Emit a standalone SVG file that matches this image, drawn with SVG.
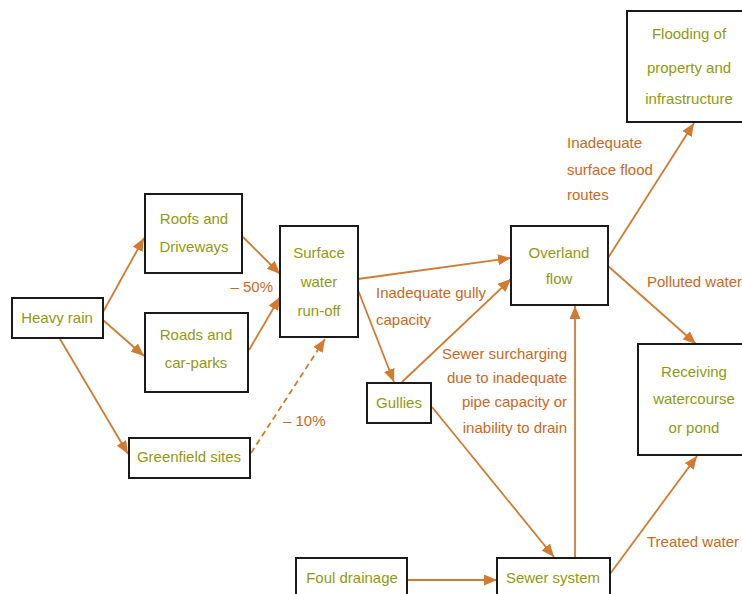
<svg xmlns="http://www.w3.org/2000/svg" width="742" height="594" viewBox="0 0 742 594">
  <style>
    .box { fill: #ffffff; stroke: #1a1a1a; stroke-width: 2; }
    .nt { font-family: "Liberation Sans", Arial, sans-serif; font-size: 15px; fill: #8f9a12; text-anchor: middle; }
    .lb { font-family: "Liberation Sans", Arial, sans-serif; font-size: 15px; fill: #c8691f; }
    .ar { fill: none; stroke: #d27a30; stroke-width: 1.8; marker-end: url(#head); }
    .dash { stroke-dasharray: 6 4; }
  </style>
  <defs>
    <marker id="head" markerUnits="userSpaceOnUse" markerWidth="13" markerHeight="11" refX="13" refY="5.5" orient="auto">
      <path d="M0,0 L13,5.5 L0,11 z" fill="#d27a30"/>
    </marker>
  </defs>
  <rect width="742" height="594" fill="#ffffff"/>

  <!-- connectors -->
  <g id="connectors">
    <line class="ar" x1="103" y1="312" x2="144" y2="238"/>
    <line class="ar" x1="103" y1="320" x2="144" y2="356"/>
    <line class="ar" x1="60" y1="339" x2="128" y2="454"/>
    <line class="ar" x1="243" y1="237" x2="280" y2="274"/>
    <line class="ar" x1="249" y1="350" x2="280" y2="297"/>
    <line class="ar dash" x1="251" y1="453" x2="325" y2="339"/>
    <line class="ar" x1="358" y1="279" x2="511" y2="258"/>
    <line class="ar" x1="358" y1="290" x2="394" y2="382"/>
    <line class="ar" x1="402" y1="382" x2="511" y2="279"/>
    <line class="ar" x1="432" y1="407" x2="554" y2="557"/>
    <line class="ar" x1="575" y1="557" x2="575" y2="306"/>
    <line class="ar" x1="407" y1="580" x2="497" y2="580"/>
    <line class="ar" x1="610" y1="574" x2="697" y2="456"/>
    <line class="ar" x1="608" y1="258" x2="694" y2="123"/>
    <line class="ar" x1="608" y1="266" x2="696" y2="344"/>

    <text class="lb" x="273" y="292" text-anchor="end">– 50%</text>
    <text class="lb" x="283" y="426">– 10%</text>
    <text class="lb" x="376" y="298">Inadequate gully</text>
    <text class="lb" x="376" y="325">capacity</text>
    <text class="lb" x="567" y="359" text-anchor="end">Sewer surcharging</text>
    <text class="lb" x="567" y="383" text-anchor="end">due to inadequate</text>
    <text class="lb" x="567" y="407" text-anchor="end">pipe capacity or</text>
    <text class="lb" x="567" y="433" text-anchor="end">inability to drain</text>
    <text class="lb" x="567" y="148">Inadequate</text>
    <text class="lb" x="567" y="175">surface flood</text>
    <text class="lb" x="567" y="200">routes</text>
    <text class="lb" x="647" y="287">Polluted water</text>
    <text class="lb" x="647" y="547">Treated water</text>
  </g>

  <!-- nodes -->
  <g id="heavy-rain">
    <rect class="box" x="12" y="298" width="91" height="40"/>
    <text class="nt" x="57" y="323">Heavy rain</text>
  </g>
  <g id="roofs">
    <rect class="box" x="145" y="194" width="97" height="79"/>
    <text class="nt" x="194" y="224">Roofs and</text>
    <text class="nt" x="194" y="252">Driveways</text>
  </g>
  <g id="roads">
    <rect class="box" x="145" y="313" width="103" height="79"/>
    <text class="nt" x="196" y="340">Roads and</text>
    <text class="nt" x="196" y="368">car-parks</text>
  </g>
  <g id="greenfield">
    <rect class="box" x="129" y="438" width="121" height="40"/>
    <text class="nt" x="189" y="462">Greenfield sites</text>
  </g>
  <g id="surface-runoff">
    <rect class="box" x="280" y="226" width="78" height="111"/>
    <text class="nt" x="319" y="258">Surface</text>
    <text class="nt" x="319" y="287">water</text>
    <text class="nt" x="319" y="316">run-off</text>
  </g>
  <g id="gullies">
    <rect class="box" x="367" y="383" width="64" height="40"/>
    <text class="nt" x="399" y="408">Gullies</text>
  </g>
  <g id="overland-flow">
    <rect class="box" x="511" y="226" width="97" height="79"/>
    <text class="nt" x="559" y="258">Overland</text>
    <text class="nt" x="559" y="284">flow</text>
  </g>
  <g id="receiving">
    <rect class="box" x="638" y="344" width="110" height="111"/>
    <text class="nt" x="694" y="377">Receiving</text>
    <text class="nt" x="694" y="404">watercourse</text>
    <text class="nt" x="694" y="433">or pond</text>
  </g>
  <g id="flooding">
    <rect class="box" x="627" y="11" width="120" height="111"/>
    <text class="nt" x="689" y="39">Flooding of</text>
    <text class="nt" x="689" y="73">property and</text>
    <text class="nt" x="689" y="104">infrastructure</text>
  </g>
  <g id="foul-drainage">
    <rect class="box" x="296" y="558" width="111" height="44"/>
    <text class="nt" x="352" y="583">Foul drainage</text>
  </g>
  <g id="sewer-system">
    <rect class="box" x="497" y="558" width="113" height="44"/>
    <text class="nt" x="553" y="583">Sewer system</text>
  </g>
</svg>
